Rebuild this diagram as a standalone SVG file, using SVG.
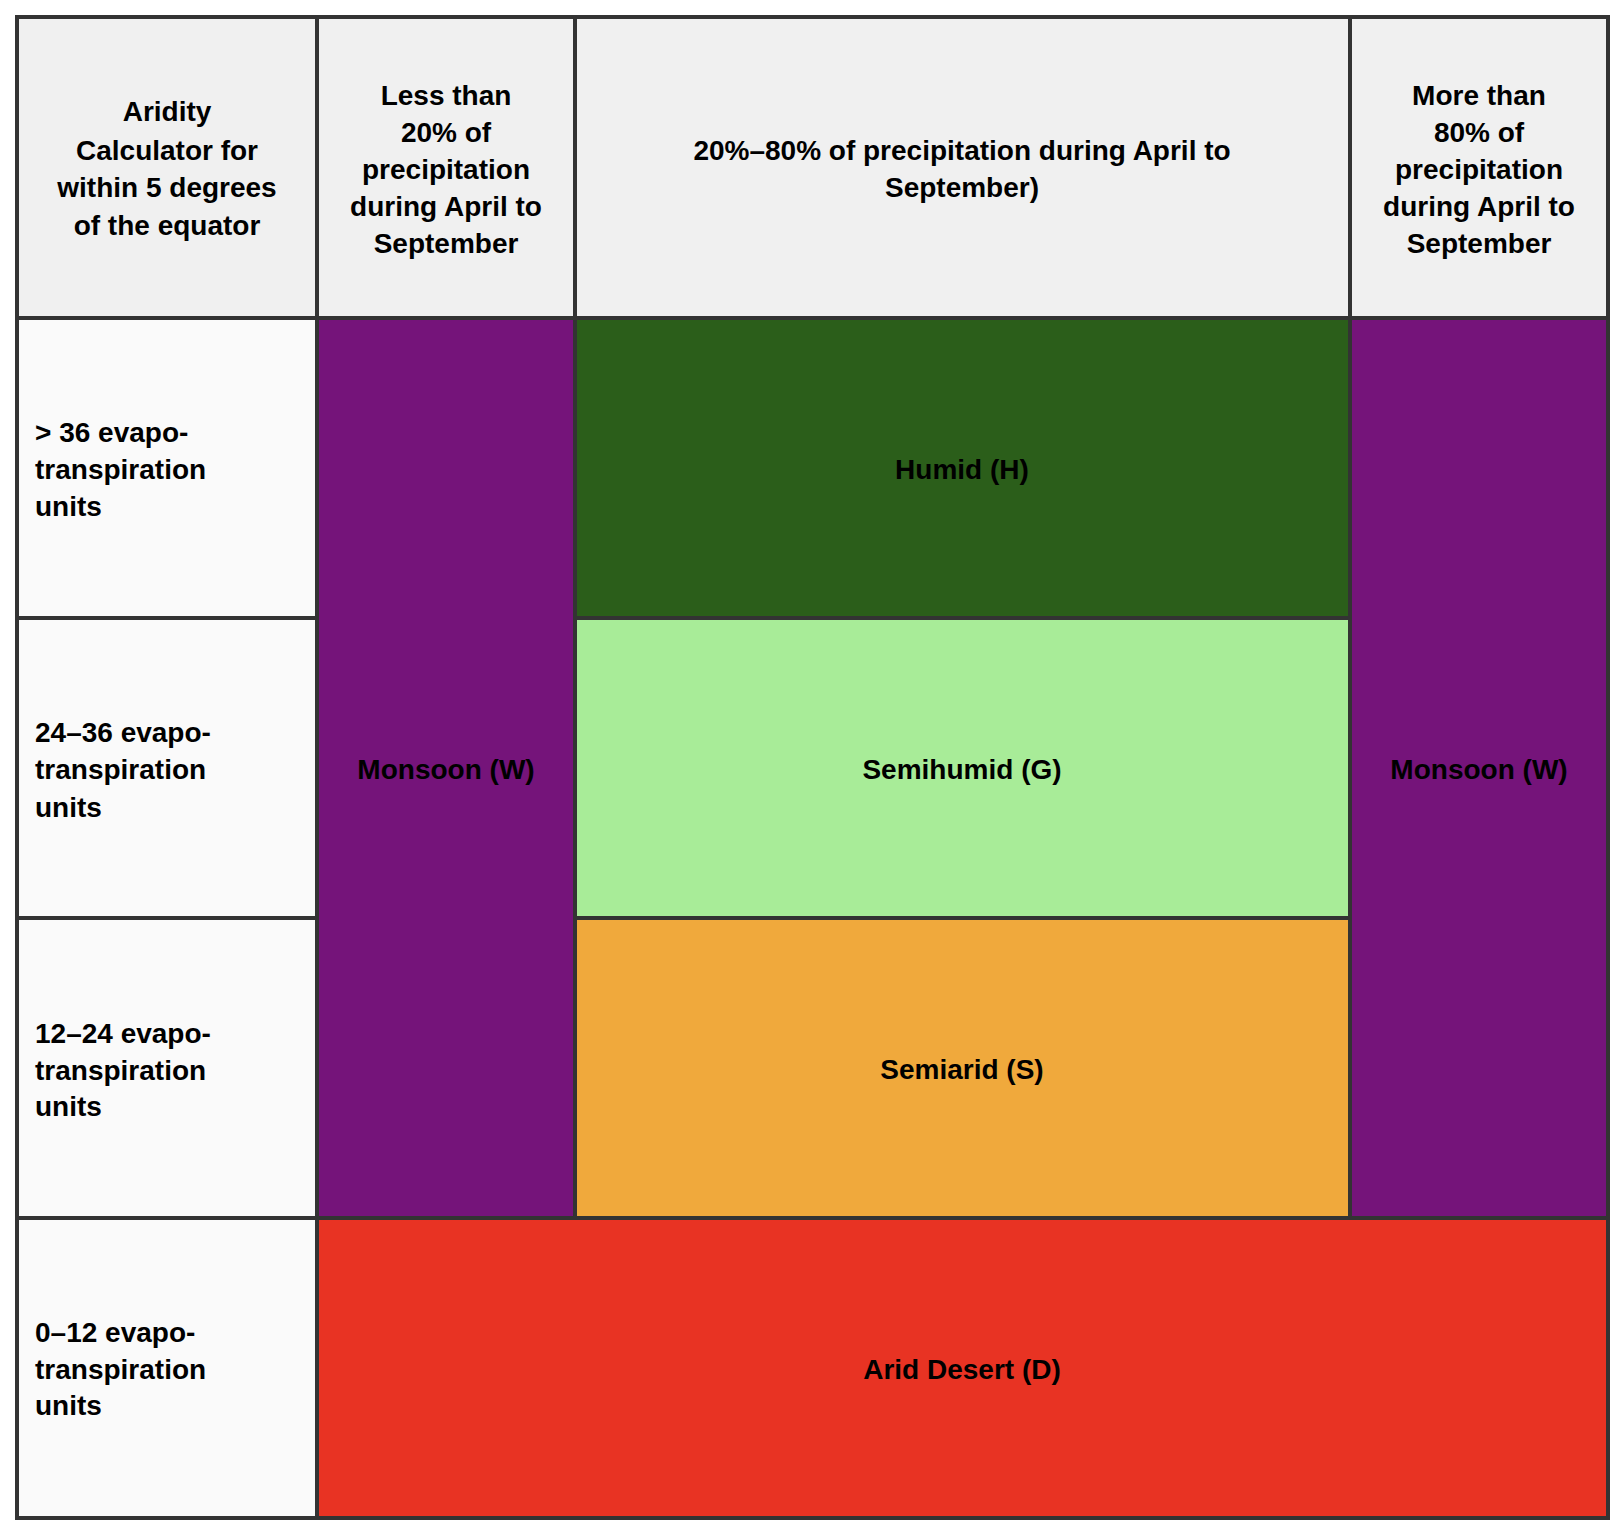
<svg xmlns="http://www.w3.org/2000/svg" width="1624" height="1535" viewBox="0 0 1624 1535">
<style>
rect{stroke:#333;stroke-width:4}
text{font-family:"Liberation Sans",Arial,sans-serif;font-weight:bold;font-size:28px;fill:#000;dominant-baseline:central}
.c{text-anchor:middle}
</style>
<rect width="1624" height="1535" fill="#fff" style="stroke:none"/>
<g id="h1"><rect x="17" y="17" width="300" height="301" fill="#f0f0f0"/>
<text class="c" x="167" y="111">Aridity</text><text class="c" x="167" y="150">Calculator for</text><text class="c" x="167" y="187">within 5 degrees</text><text class="c" x="167" y="225">of the equator</text></g>
<g id="h2"><rect x="317" y="17" width="258" height="301" fill="#f0f0f0"/>
<text class="c" x="446" y="95">Less than</text><text class="c" x="446" y="132">20% of</text><text class="c" x="446" y="169">precipitation</text><text class="c" x="446" y="206">during April to</text><text class="c" x="446" y="243">September</text></g>
<g id="h3"><rect x="575" y="17" width="775" height="301" fill="#f0f0f0"/>
<text class="c" x="962" y="150">20%–80% of precipitation during April to</text><text class="c" x="962" y="187">September)</text></g>
<g id="h4"><rect x="1350" y="17" width="258" height="301" fill="#f0f0f0"/>
<text class="c" x="1479" y="95">More than</text><text class="c" x="1479" y="132">80% of</text><text class="c" x="1479" y="169">precipitation</text><text class="c" x="1479" y="206">during April to</text><text class="c" x="1479" y="243">September</text></g>
<g id="r1"><rect x="17" y="318" width="300" height="300" fill="#fafafa"/>
<text x="35" y="432">&gt; 36 evapo-</text><text x="35" y="469">transpiration</text><text x="35" y="506">units</text></g>
<g id="r2"><rect x="17" y="618" width="300" height="300" fill="#fafafa"/>
<text x="35" y="732">24–36 evapo-</text><text x="35" y="769">transpiration</text><text x="35" y="807">units</text></g>
<g id="r3"><rect x="17" y="918" width="300" height="300" fill="#fafafa"/>
<text x="35" y="1033">12–24 evapo-</text><text x="35" y="1070">transpiration</text><text x="35" y="1106">units</text></g>
<g id="r4"><rect x="17" y="1218" width="300" height="300" fill="#fafafa"/>
<text x="35" y="1332">0–12 evapo-</text><text x="35" y="1369">transpiration</text><text x="35" y="1405">units</text></g>
<g id="monsoon1"><rect x="317" y="318" width="258" height="900" fill="#75147a"/><text class="c" x="446" y="769">Monsoon (W)</text></g>
<g id="humid"><rect x="575" y="318" width="775" height="300" fill="#2b5e1a"/><text class="c" x="962" y="469">Humid (H)</text></g>
<g id="semihumid"><rect x="575" y="618" width="775" height="300" fill="#a8ec98"/><text class="c" x="962" y="769">Semihumid (G)</text></g>
<g id="semiarid"><rect x="575" y="918" width="775" height="300" fill="#f0a93c"/><text class="c" x="962" y="1069">Semiarid (S)</text></g>
<g id="monsoon2"><rect x="1350" y="318" width="258" height="900" fill="#75147a"/><text class="c" x="1479" y="769">Monsoon (W)</text></g>
<g id="arid"><rect x="317" y="1218" width="1291" height="300" fill="#e83323"/><text class="c" x="962" y="1369">Arid Desert (D)</text></g>
<g id="connectors"/>
</svg>
